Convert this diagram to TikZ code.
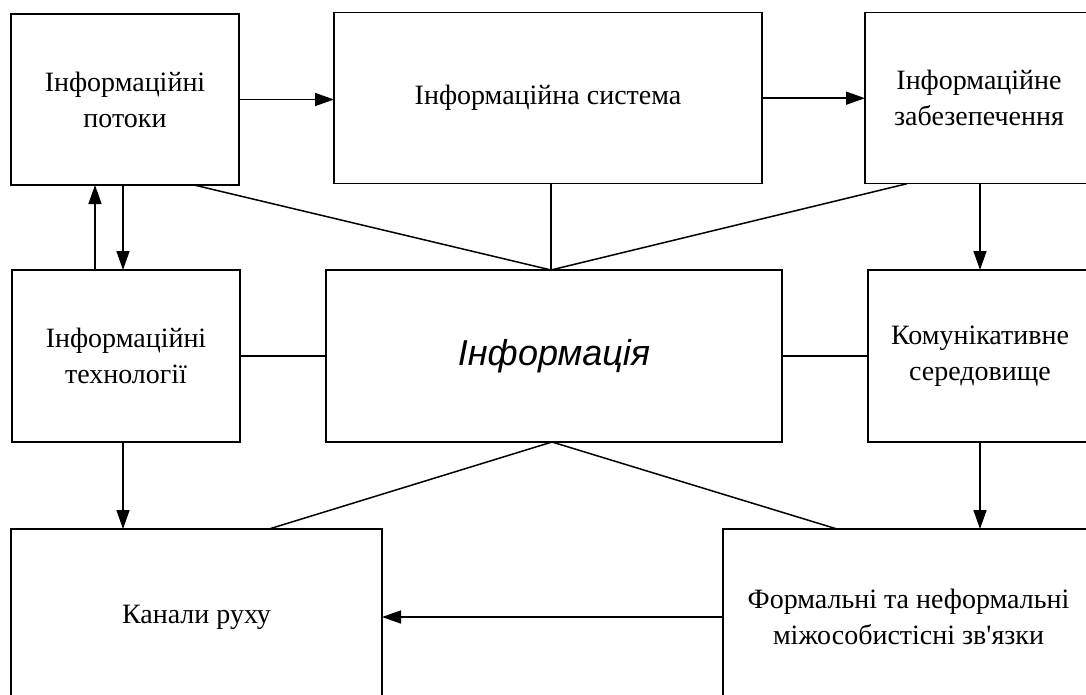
\documentclass[tikz,border=0pt]{standalone}
\usepackage{fontspec}
\setmainfont{Liberation Serif}[Ligatures=TeXOff]
\newfontfamily\infosans{Liberation Sans}
\usetikzlibrary{arrows.meta,calc}
\tikzset{
  box/.style={draw, line width=1.5pt, inner sep=0pt, outer sep=0pt, align=center,
    font=\fontsize{28}{36}\selectfont},
  conn/.style={line width=1.5pt},
  arr/.style={conn, -{Triangle[length=19pt,width=13pt]}}
}
\begin{document}
\begin{tikzpicture}[x=1pt,y=-1pt]
\useasboundingbox (0,0) rectangle (1086,695);
\clip (0,0) rectangle (1086,695);
\fill[white] (0,0) rectangle (1086,695);
% boxes
\node[box, minimum width=228pt, minimum height=171pt] (A) at (125,99.5) {Інформаційні\\потоки};
\node[box, minimum width=428pt, minimum height=171pt] (B) at (548,98.2) {Інформаційна система};
\node[box, minimum width=228pt, minimum height=171pt] (C) at (979,98.2) {Інформаційне\\забезепечення};
\node[box, minimum width=228pt, minimum height=172pt] (D) at (126,356) {Інформаційні\\технології};
\node[box, minimum width=456pt, minimum height=172pt, font=\infosans\itshape\fontsize{36}{42}\selectfont] (E) at (554,356) {Інформація};
\node[box, minimum width=224pt, minimum height=172pt] (F) at (980,356) {Комунікативне\\середовище};
\node[box, minimum width=371pt, minimum height=176pt] (G) at (196.5,617) {Канали руху};
\node[box, minimum width=371pt, minimum height=176pt] (H) at (908.5,617) {Формальні та неформальні\\міжособистісні зв'язки};
% helper points
\coordinate (topapex) at ($(E.north)+(-3,0)$);
\coordinate (botapex) at ($(E.south)+(-2,0)$);
\coordinate (Adown) at ($(A.south)+(-2,0)$);
\coordinate (Aup) at ($(A.south)+(-30,0)$);
\coordinate (Aline) at ($(A.south west)+(183,0)$);
\coordinate (Cline) at ($(C.south west)+(42,0)$);
\coordinate (Dout) at ($(D.south)+(-3,0)$);
\coordinate (Gin) at ($(G.north west)+(258,0)$);
\coordinate (Hin) at ($(H.north west)+(114,0)$);
% connectors
\draw[arr] (A.east) -- (A.east -| B.west);
\draw[arr] (B.east) -- (B.east -| C.west);
\draw[arr] (Adown) -- (Adown |- D.north);
\draw[arr] (Aup |- D.north) -- (Aup);
\draw[conn] (Aline) -- (topapex);
\draw[conn] (B.south -| topapex) -- (topapex);
\draw[conn] (Cline) -- (topapex);
\draw[arr] (C.south -| F.north) -- (F.north);
\draw[conn] (D.east) -- (E.west);
\draw[conn] (E.east) -- (F.west);
\draw[arr] (Dout) -- (Dout |- G.north);
\draw[conn] (botapex) -- (Gin);
\draw[conn] (botapex) -- (Hin);
\draw[arr] (F.south) -- (F.south |- H.north);
\draw[arr] (H.west) -- (H.west -| G.east);
\end{tikzpicture}
\end{document}
